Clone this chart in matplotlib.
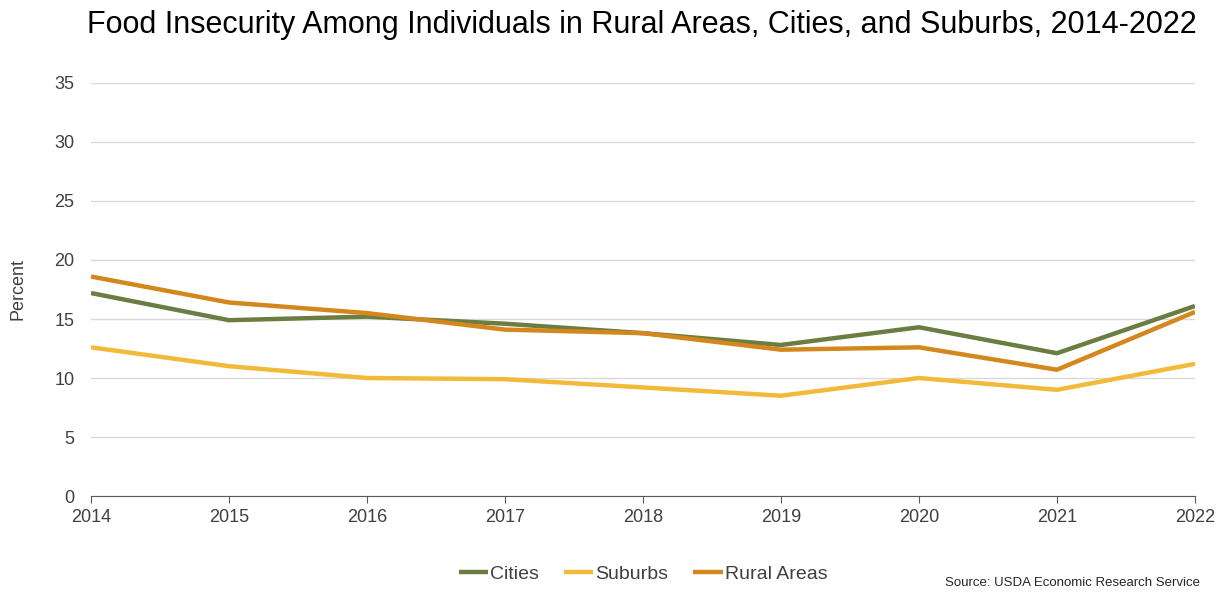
import matplotlib
matplotlib.use("Agg")
import matplotlib.pyplot as plt
from matplotlib import font_manager

years = [2014, 2015, 2016, 2017, 2018, 2019, 2020, 2021, 2022]
cities = [17.2, 14.9, 15.2, 14.6, 13.8, 12.8, 14.3, 12.1, 16.1]
suburbs = [12.6, 11.0, 10.0, 9.9, 9.2, 8.5, 10.0, 9.0, 11.2]
rural = [18.6, 16.4, 15.5, 14.1, 13.8, 12.4, 12.6, 10.7, 15.6]

series_names = ["Cities", "Suburbs", "Rural Areas"]
series_colors = ["#6B7D41", "#F2BA3A", "#D4871C"]

available = {f.name for f in font_manager.fontManager.ttflist}
narrow = "Liberation Sans Narrow" if "Liberation Sans Narrow" in available else "Liberation Sans"
plt.rcParams["font.family"] = ["Liberation Sans", "DejaVu Sans"]

fig = plt.figure(figsize=(12.28, 6.0), dpi=100)
ax = fig.add_axes([0.0741, 0.1733, 0.8990, 0.6884])

for vals, name, color in zip([cities, suburbs, rural], series_names, series_colors):
    ax.plot(years, vals, color=color, lw=3.2, label=name, solid_capstyle="butt")

ax.set_xlim(years[0], years[-1])
ax.set_ylim(0, 35)
ax.set_yticks(range(0, 36, 5))
ax.set_xticks(years)
ax.grid(axis="y", color="#D9D9D9", lw=1)
ax.set_axisbelow(True)
for s in ["left", "right", "top"]:
    ax.spines[s].set_visible(False)
ax.spines["bottom"].set_color("#595959")
ax.tick_params(axis="y", length=0, pad=12, labelsize=13, labelcolor="#404040")
ax.tick_params(axis="x", length=5, color="#595959", pad=4, labelsize=13, labelcolor="#404040")
ax.set_ylabel("Percent", fontsize=13, color="#404040", labelpad=20)

fig.text(0.523, 0.958, "Food Insecurity Among Individuals in Rural Areas, Cities, and Suburbs, 2014-2022",
         ha="center", va="center", fontsize=22, family=[narrow, "DejaVu Sans"], color="#000000")

ax.legend(loc="center", bbox_to_anchor=(0.50, -0.19), ncol=3, frameon=False,
          handlelength=1.5, handletextpad=0.1, columnspacing=1.3,
          labelcolor="#404040", prop={"family": [narrow, "DejaVu Sans"], "size": 14})

fig.text(0.977, 0.018, "Source: USDA Economic Research Service", ha="right", va="bottom",
         fontsize=9.5, family=[narrow, "DejaVu Sans"], color="#262626")

fig.savefig("out.png", dpi=100, facecolor="white")
